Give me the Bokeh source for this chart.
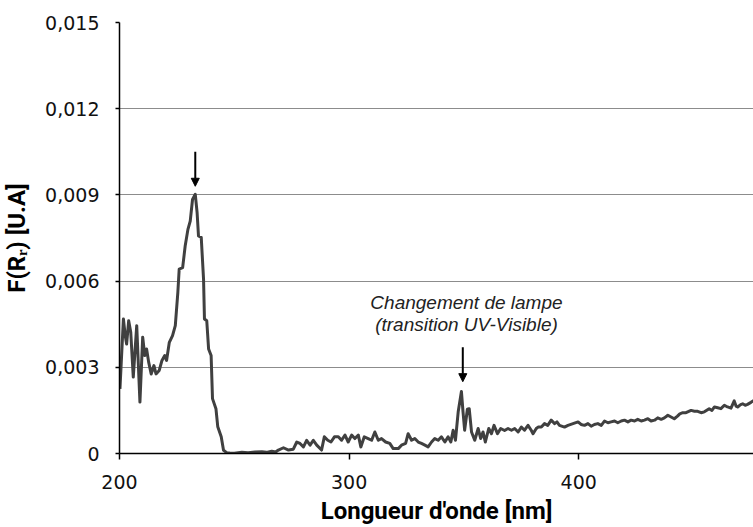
from bokeh.plotting import figure
from bokeh.models import Range1d, Arrow, NormalHead, ColumnDataSource
from bokeh.core.properties import value
from bokeh.embed import file_html
from bokeh.resources import INLINE

# ---- data ----
wavelength = [
    200.2, 201.7, 202.5, 203.1, 204.0, 204.9, 206.0, 207.5, 208.9, 210.1,
    211.0, 211.8, 212.7, 213.8, 215.0, 215.9, 217.3, 218.5, 219.7, 220.5,
    221.7, 223.1, 224.3, 225.4, 226.0, 227.5, 228.6, 229.8, 230.8, 231.8,
    233.0, 233.8, 234.4, 235.6, 236.6, 237.0, 238.0, 238.8, 239.9, 240.5,
    242.0, 242.8, 244.3, 245.3, 246.7, 248.0, 250.0, 253.3, 256.0, 259.0,
    262.0, 264.0, 266.3, 268.0, 269.2, 271.4, 273.6, 275.7, 277.2, 278.6,
    280.1, 281.5, 283.0, 284.4, 285.9, 288.0, 289.2, 290.7, 292.1, 293.6,
    295.3, 296.7, 298.2, 299.6, 301.1, 302.5, 304.0, 305.1, 306.6, 308.3,
    309.8, 311.2, 312.7, 314.1, 315.9, 317.7, 319.2, 321.4, 322.8, 324.6,
    325.7, 327.2, 328.6, 330.1, 331.5, 333.0, 334.4, 335.9, 337.3, 338.8,
    340.2, 341.7, 343.1, 344.3, 345.3, 346.3, 347.5, 348.9, 349.6, 350.3,
    351.5, 352.3, 353.3, 354.7, 356.2, 357.3, 358.3, 359.3, 360.8, 362.0,
    363.1, 364.6, 366.0, 367.7, 369.2, 370.7, 372.1, 373.6, 375.0, 376.4,
    377.9, 379.3, 380.1, 381.5, 382.3, 383.7, 385.1, 386.5, 388.0, 389.5,
    390.5, 391.6, 393.8, 395.3, 397.5, 399.7, 401.0, 402.5, 404.0, 405.4,
    406.8, 408.3, 409.8, 411.2, 412.7, 414.1, 415.6, 417.0, 418.5, 419.9,
    421.4, 422.8, 424.3, 425.7, 427.2, 428.6, 430.1, 431.5, 433.0, 434.4,
    435.9, 437.3, 438.8, 440.2, 441.6, 443.0, 444.0, 445.3, 446.7, 448.9,
    450.4, 451.8, 453.3, 454.7, 456.8, 458.0, 459.1, 460.5, 461.9, 463.4,
    464.8, 466.3, 467.7, 468.5, 469.2, 470.5, 471.4, 472.5, 473.5, 475.0,
    476.3,
]
f_rr = [
    0.00225, 0.00468, 0.00410, 0.00381, 0.00462, 0.00422, 0.00266, 0.00445, 0.00179, 0.00405,
    0.00341, 0.00364, 0.00318, 0.00277, 0.00306, 0.00277, 0.00289, 0.00324, 0.00341, 0.00324,
    0.00387, 0.00410, 0.00445, 0.00560, 0.00642, 0.00647, 0.00722, 0.00780, 0.00809, 0.00884,
    0.00902, 0.00838, 0.00757, 0.00752, 0.00607, 0.00468, 0.00462, 0.00364, 0.00341, 0.00191,
    0.00156, 0.00093, 0.00058, 0.00011, 0.00003, 0.00002, 0.00001, 0.00004, 0.00003, 0.00005,
    0.00006, 0.00004, 0.00008, 0.00005, 0.00012, 0.00020, 0.00012, 0.00015, 0.00040, 0.00035,
    0.00023, 0.00046, 0.00029, 0.00046, 0.00029, 0.00012, 0.00058, 0.00046, 0.00040, 0.00058,
    0.00058, 0.00046, 0.00064, 0.00040, 0.00064, 0.00052, 0.00064, 0.00023, 0.00058, 0.00052,
    0.00046, 0.00075, 0.00046, 0.00052, 0.00040, 0.00035, 0.00017, 0.00017, 0.00029, 0.00035,
    0.00069, 0.00046, 0.00052, 0.00040, 0.00035, 0.00029, 0.00023, 0.00040, 0.00052, 0.00046,
    0.00058, 0.00040, 0.00058, 0.00040, 0.00081, 0.00046, 0.00145, 0.00216, 0.00145, 0.00081,
    0.00154, 0.00156, 0.00075, 0.00046, 0.00087, 0.00052, 0.00075, 0.00040, 0.00087, 0.00069,
    0.00098, 0.00069, 0.00087, 0.00080, 0.00087, 0.00081, 0.00087, 0.00075, 0.00092, 0.00081,
    0.00098, 0.00081, 0.00069, 0.00087, 0.00092, 0.00092, 0.00104, 0.00098, 0.00116, 0.00104,
    0.00110, 0.00098, 0.00092, 0.00098, 0.00104, 0.00110, 0.00101, 0.00098, 0.00104, 0.00095,
    0.00101, 0.00104, 0.00098, 0.00113, 0.00107, 0.00110, 0.00113, 0.00107, 0.00113, 0.00116,
    0.00110, 0.00116, 0.00113, 0.00119, 0.00113, 0.00116, 0.00121, 0.00113, 0.00116, 0.00124,
    0.00119, 0.00124, 0.00133, 0.00127, 0.00121, 0.00130, 0.00138, 0.00142, 0.00142, 0.00150,
    0.00147, 0.00147, 0.00142, 0.00145, 0.00156, 0.00150, 0.00162, 0.00159, 0.00156, 0.00168,
    0.00162, 0.00158, 0.00183, 0.00165, 0.00162, 0.00170, 0.00173, 0.00168, 0.00171, 0.00178,
    0.00185,
]

x_ticks = [200, 300, 400]
y_ticks = [0, 0.003, 0.006, 0.009, 0.012, 0.015]
y_tick_labels = ["0", "0,003", "0,006", "0,009", "0,012", "0,015"]

arrow_x = [233.0, 349.5]
arrow_top = [0.0105, 0.0037]
arrow_tip = [0.0093, 0.0025]

note_lines = ["Changement de lampe", "(transition UV-Visible)"]
note_x = [351.1, 351.1]
note_y = [0.00525, 0.00449]

x_label = "Longueur d'onde [nm]"
y_label = "F(R\u1d63) [U.A]"

# ---- figure ----
p = figure(
    width=753, height=527,
    output_backend="svg", toolbar_location=None,
    x_range=Range1d(200, 476.1), y_range=Range1d(0, 0.015),
    min_border_left=118, min_border_right=0, min_border_top=22, min_border_bottom=72,
)
p.outline_line_color = None
p.background_fill_color = "white"
p.border_fill_color = "white"

p.xgrid.visible = False
p.ygrid.grid_line_color = "#8c8c8c"
p.ygrid.grid_line_width = 1

p.line(wavelength, f_rr, line_color="#404040", line_width=3, line_join="round")

arrow_src = ColumnDataSource(dict(x=arrow_x, y0=arrow_top, y1=arrow_tip))
p.add_layout(Arrow(
    end=NormalHead(size=8, fill_color="black", line_color="black", line_width=1),
    x_start="x", y_start="y0", x_end="x", y_end="y1",
    source=arrow_src, line_color="black", line_width=2,
))

p.text(
    x=note_x, y=note_y, text=note_lines,
    text_font=value("Liberation Sans"), text_font_style="italic",
    text_font_size="19px", text_align="center", text_baseline="middle",
    text_color="#222222",
)

for ax in (p.xaxis, p.yaxis):
    ax.axis_line_color = "black"
    ax.axis_line_width = 1.5
    ax.major_tick_line_color = "black"
    ax.major_tick_line_width = 1.5
    ax.minor_tick_line_color = None
    ax.major_tick_in = 0
    ax.major_label_text_font = "DejaVu Sans"
    ax.major_label_text_font_size = "19px"
    ax.major_label_text_color = "#111111"
    ax.axis_label_text_font = "Roboto"
    ax.axis_label_text_font_style = "bold"
    ax.axis_label_text_font_size = "24px"
    ax.axis_label_text_color = "black"

p.xaxis.ticker = x_ticks
p.xaxis.major_tick_out = 6
p.xaxis.major_label_standoff = 15
p.xaxis.axis_label = x_label
p.xaxis.axis_label_standoff = 5

p.yaxis.ticker = y_ticks
p.yaxis.major_label_overrides = dict(zip(y_ticks, y_tick_labels))
p.yaxis.major_tick_out = 4
p.yaxis.major_label_standoff = 16
p.yaxis.axis_label = y_label
p.yaxis.axis_label_standoff = 11

open("out.html", "w").write(file_html(p, INLINE))
